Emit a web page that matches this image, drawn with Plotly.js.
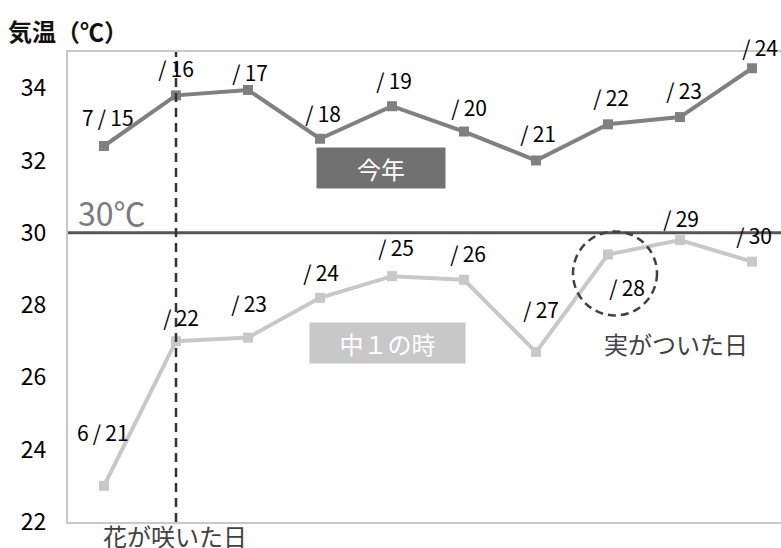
<!DOCTYPE html>
<html>
<head>
<meta charset="utf-8">
<script src="https://cdn.plot.ly/plotly-3.0.1.min.js"></script>
<style>
html,body{margin:0;padding:0;overflow:hidden;background:#fff;}
#chart{width:790px;height:548px;}
</style>
</head>
<body>
<div id="chart"></div>
<script>
// ---- data ----
const seriesNames = ['今年', '中１の時'];
const thisYearLabels = ['7/15','/16','/17','/18','/19','/20','/21','/22','/23','/24'];
const thisYearTemps  = [32.4, 33.8, 33.95, 32.6, 33.5, 32.8, 32.0, 33.0, 33.2, 34.55];
const grade1Labels   = ['6/21','/22','/23','/24','/25','/26','/27','/28','/29','/30'];
const grade1Temps    = [23.0, 27.0, 27.1, 28.2, 28.8, 28.7, 26.7, 29.4, 29.8, 29.2];
const yTicks = [22, 24, 26, 28, 30, 32, 34];
const thresholdTemp = 30;
const thresholdLabel = '30℃';
const floweringIndex = 1;
const floweringLabel = '花が咲いた日';
const fruitIndex = 7;
const fruitLabel = '実がついた日';
const yTitle = '気温（℃）';

// ---- label offsets (pixels, style only) ----
const thisYearShift = [[4,29],[-2,27],[0,18],[1,26],[0,26],[3,25],[0,27],[1,27],[2,27],[6,21]];
const grade1Shift   = [[-1,54],[3,24],[-1,35],[-1,26],[2,29],[2,27],[3,43],[17,-33],[-1,22],[0,27]];

const FONT = '"Noto Sans CJK JP", "Noto Sans", sans-serif';
const idx = a => a.map((_, i) => i);
// widen the slash with thin spaces, as in the reference's Japanese font
const fmtLabel = t => t.replace('/', '\u2009/\u2009');

const traces = [
  {
    x: idx(grade1Temps), y: grade1Temps, name: seriesNames[1],
    type: 'scatter', mode: 'lines+markers',
    line: {color: '#c8c8c8', width: 4},
    marker: {symbol: 'square', size: 10, color: '#c8c8c8'},
    hoverinfo: 'skip'
  },
  {
    x: idx(thisYearTemps), y: thisYearTemps, name: seriesNames[0],
    type: 'scatter', mode: 'lines+markers',
    line: {color: '#808080', width: 4},
    marker: {symbol: 'square', size: 10, color: '#808080'},
    hoverinfo: 'skip'
  }
];

const labelFont = {family: FONT, size: 21, color: '#000'};
const annotations = [];
thisYearLabels.forEach((t, i) => annotations.push({
  x: i, y: thisYearTemps[i], text: fmtLabel(t), showarrow: false,
  xanchor: 'center', yanchor: 'middle',
  xshift: thisYearShift[i][0], yshift: thisYearShift[i][1], font: labelFont
}));
grade1Labels.forEach((t, i) => annotations.push({
  x: i, y: grade1Temps[i], text: fmtLabel(t), showarrow: false,
  xanchor: 'center', yanchor: 'middle',
  xshift: grade1Shift[i][0], yshift: grade1Shift[i][1], font: labelFont
}));

// legend-like boxes
annotations.push({
  xref: 'paper', yref: 'paper', x: 0.4347, y: 0.753, xanchor: 'center', yanchor: 'middle',
  text: seriesNames[0],
  showarrow: false, bgcolor: '#717171', width: 128, height: 40, borderpad: 0,
  font: {family: FONT, size: 24, color: '#fff'}
});
annotations.push({
  xref: 'paper', yref: 'paper', x: 0.4438, y: 0.381, xanchor: 'center', yanchor: 'middle',
  text: seriesNames[1],
  showarrow: false, bgcolor: '#c8c8c8', width: 155, height: 40, borderpad: 0,
  font: {family: FONT, size: 24, color: '#fff'}
});
// threshold label
annotations.push({
  xref: 'paper', yref: 'y', x: 0, y: thresholdTemp, xanchor: 'left', yanchor: 'middle',
  text: thresholdLabel, showarrow: false, xshift: 8, yshift: 21,
  font: {family: FONT, size: 32, color: '#7a7a7a'}
});
// flowering label
annotations.push({
  x: floweringIndex, xref: 'x', yref: 'paper', y: 0, xanchor: 'center', yanchor: 'middle',
  text: floweringLabel, showarrow: false, yshift: -13, xshift: -1,
  font: {family: FONT, size: 24, color: '#404040'}
});
// fruit label
annotations.push({
  x: fruitIndex, y: grade1Temps[fruitIndex], xanchor: 'center', yanchor: 'middle',
  text: fruitLabel, showarrow: false, xshift: 68, yshift: -89,
  font: {family: FONT, size: 24, color: '#404040'}
});
// y axis title
annotations.push({
  xref: 'paper', yref: 'paper', x: 0, y: 1, xanchor: 'center', yanchor: 'middle',
  text: yTitle, showarrow: false, xshift: 0, yshift: 22,
  font: {family: FONT, size: 24, color: '#111', weight: 'bold'}
});

const shapes = [
  {type: 'line', xref: 'paper', yref: 'y', x0: 0, x1: 1, y0: thresholdTemp, y1: thresholdTemp,
   line: {color: '#555555', width: 3}},
  {type: 'line', xref: 'x', yref: 'paper', x0: floweringIndex, x1: floweringIndex, y0: 0, y1: 1,
   line: {color: '#333333', width: 2.5, dash: '9px,6px'}},
  {type: 'circle', xref: 'x', yref: 'y', xsizemode: 'pixel', ysizemode: 'pixel',
   xanchor: fruitIndex, yanchor: grade1Temps[fruitIndex],
   x0: -35, x1: 49, y0: -61, y1: 23,
   line: {color: '#404040', width: 2.5, dash: '8px,5px'}}
];

const layout = {
  width: 790, height: 548,
  margin: {l: 68, r: 2, t: 52, b: 26},
  paper_bgcolor: '#fff', plot_bgcolor: '#fff',
  showlegend: false,
  xaxis: {
    range: [-0.5, 9.5], showgrid: false, zeroline: false, showticklabels: false, ticks: '',
    showline: true, linecolor: '#c8c8c8', linewidth: 2, mirror: true, fixedrange: true
  },
  yaxis: {
    range: [22, 35], tickvals: yTicks, ticktext: yTicks.map(String),
    showgrid: false, zeroline: false, ticks: '', ticklabelstandoff: 15,
    showline: true, linecolor: '#c8c8c8', linewidth: 2, mirror: true,
    tickfont: {family: FONT, size: 23, color: '#000'}, fixedrange: true
  },
  annotations: annotations,
  shapes: shapes
};

Plotly.newPlot('chart', traces, layout, {displayModeBar: false, staticPlot: true});
</script>
</body>
</html>
